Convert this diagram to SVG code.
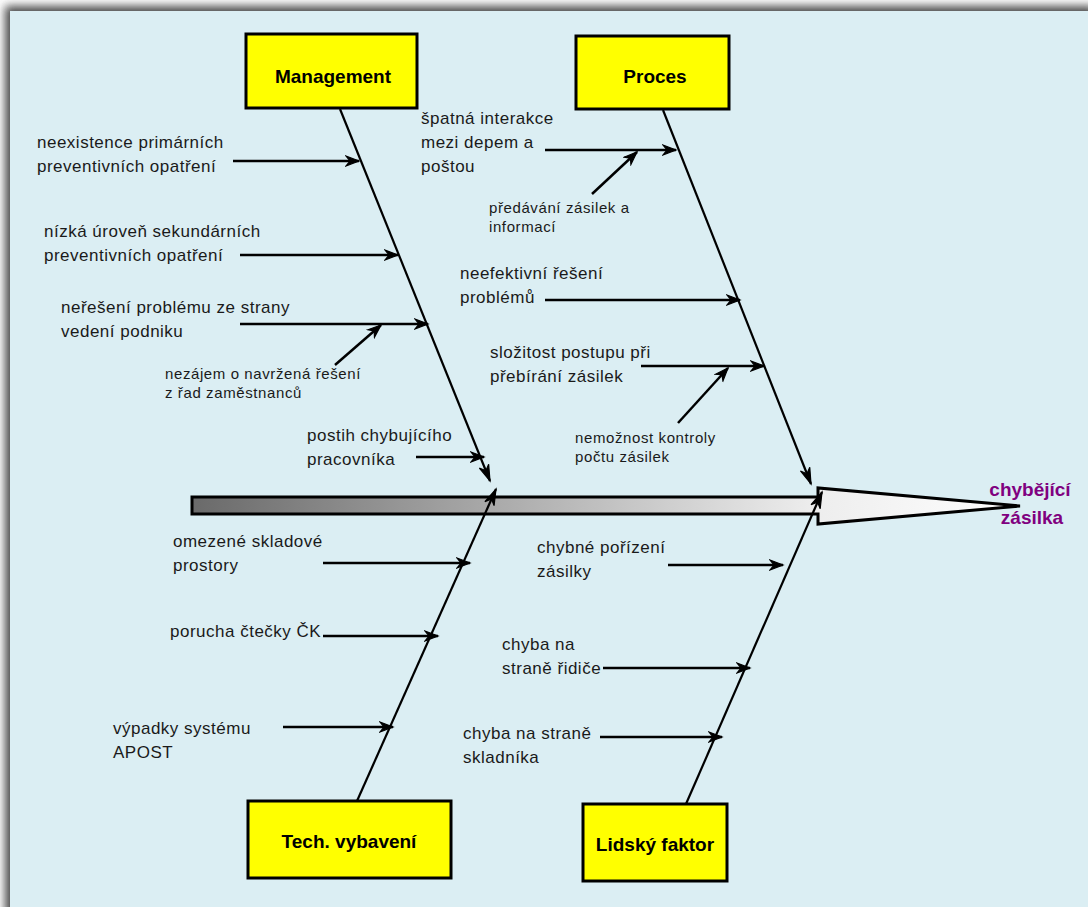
<svg xmlns="http://www.w3.org/2000/svg" width="1088" height="907" viewBox="0 0 1088 907">
<defs>
<filter id="sh" x="-5%" y="-5%" width="110%" height="110%"><feGaussianBlur stdDeviation="5"/></filter>
<linearGradient id="sg" gradientUnits="userSpaceOnUse" x1="192" y1="0" x2="1020" y2="0">
<stop offset="0" stop-color="#6a6a6a"/><stop offset="0.75" stop-color="#ededed"/><stop offset="1" stop-color="#ffffff"/>
</linearGradient>
<marker id="ah" viewBox="-14 -7 16 14" markerWidth="16" markerHeight="14" refX="0" refY="0" orient="auto" markerUnits="userSpaceOnUse">
<path d="M-13,-5 L0,0 L-13,5 L-9,0 Z" fill="#000" stroke="#000" stroke-width="1.2" stroke-linejoin="miter"/>
</marker>
<marker id="ahb" viewBox="-18 -7 20 14" markerWidth="20" markerHeight="14" refX="0" refY="0" orient="auto" markerUnits="userSpaceOnUse">
<path d="M-16,-5 L0,0 L-16,5 L-11,0 Z" fill="#000" stroke="#000" stroke-width="1.2"/>
</marker>
</defs>
<style>
.box{fill:#ffff00;stroke:#000;stroke-width:3}
.bt{font-family:"Liberation Sans",Arial,sans-serif;font-weight:bold;font-size:19px;fill:#000;text-anchor:middle}
.t{font-family:"Liberation Sans",Arial,sans-serif;font-size:17px;letter-spacing:0.5px;fill:#1a1a1a}
.s{font-family:"Liberation Sans",Arial,sans-serif;font-size:15px;letter-spacing:0.6px;fill:#1a1a1a}
.bone{stroke:#000;stroke-width:2.2;fill:none;marker-end:url(#ahb)}
.br{stroke:#000;stroke-width:2.5;fill:none;marker-end:url(#ah)}
.eff{font-family:"Liberation Sans",Arial,sans-serif;font-weight:bold;font-size:19px;fill:#800080;text-anchor:middle}
</style>
<rect x="0" y="0" width="1088" height="907" fill="#ffffff"/>
<rect x="5" y="6" width="1090" height="910" fill="#4a4a4a" filter="url(#sh)"/>
<rect x="10" y="11" width="1078" height="896" fill="#dbeef3"/>

<g id="spine">
<path d="M192,497 L818,497 L818,488 L1020,506 L818,524 L818,514 L192,514 Z" fill="url(#sg)" stroke="#000" stroke-width="3" stroke-linejoin="miter"/>
</g>
<g id="effect">
<text class="eff" x="1030" y="496">chybějící</text>
<text class="eff" x="1032" y="524">zásilka</text>
</g>

<g id="connectors">
<line class="bone" x1="340" y1="109" x2="490" y2="481"/>
<line class="bone" x1="663" y1="110" x2="811" y2="484"/>
<line class="bone" x1="357" y1="801" x2="496" y2="489"/>
<line class="bone" x1="686" y1="804" x2="822" y2="492"/>

<line class="br" x1="233" y1="161" x2="359" y2="161"/>
<line class="br" x1="240" y1="255" x2="398" y2="255"/>
<line class="br" x1="240" y1="324" x2="428" y2="324"/>
<line class="br" x1="335" y1="365" x2="381" y2="325"/>
<line class="br" x1="416" y1="457" x2="484" y2="457"/>

<line class="br" x1="545" y1="150" x2="676" y2="150"/>
<line class="br" x1="592" y1="194" x2="637" y2="152"/>
<line class="br" x1="545" y1="300" x2="740" y2="300"/>
<line class="br" x1="641" y1="366" x2="764" y2="366"/>
<line class="br" x1="678" y1="423" x2="728" y2="368"/>

<line class="br" x1="323" y1="563" x2="470" y2="563"/>
<line class="br" x1="323" y1="636" x2="438" y2="636"/>
<line class="br" x1="283" y1="727" x2="393" y2="727"/>

<line class="br" x1="668" y1="565" x2="783" y2="565"/>
<line class="br" x1="603" y1="668" x2="750" y2="668"/>
<line class="br" x1="600" y1="737" x2="722" y2="737"/>
</g>

<g id="management">
<rect class="box" x="246" y="34" width="171" height="74"/>
<text class="bt" x="333" y="83">Management</text>
</g>
<g id="proces">
<rect class="box" x="576" y="36" width="153" height="73"/>
<text class="bt" x="655" y="83">Proces</text>
</g>
<g id="tech">
<rect class="box" x="248" y="801" width="203" height="77"/>
<text class="bt" x="349" y="848">Tech. vybavení</text>
</g>
<g id="lidsky">
<rect class="box" x="583" y="804" width="144" height="77"/>
<text class="bt" x="655" y="851">Lidský faktor</text>
</g>

<g id="labels">
<text class="t" x="37" y="148">neexistence primárních</text>
<text class="t" x="37" y="172">preventivních opatření</text>
<text class="t" x="44" y="237">nízká úroveň sekundárních</text>
<text class="t" x="44" y="261">preventivních opatření</text>
<text class="t" x="61" y="313">neřešení problému ze strany</text>
<text class="t" x="61" y="337">vedení podniku</text>
<text class="s" x="165" y="379">nezájem o navržená řešení</text>
<text class="s" x="165" y="398">z řad zaměstnanců</text>
<text class="t" x="307" y="441">postih chybujícího</text>
<text class="t" x="307" y="465">pracovníka</text>

<text class="t" x="421" y="124">špatná interakce</text>
<text class="t" x="421" y="148">mezi depem a</text>
<text class="t" x="421" y="172">poštou</text>
<text class="s" x="489" y="213">předávání zásilek a</text>
<text class="s" x="489" y="232">informací</text>
<text class="t" x="460" y="279">neefektivní řešení</text>
<text class="t" x="460" y="303">problémů</text>
<text class="t" x="490" y="358">složitost postupu při</text>
<text class="t" x="490" y="382">přebírání zásilek</text>
<text class="s" x="575" y="443">nemožnost kontroly</text>
<text class="s" x="575" y="462">počtu zásilek</text>

<text class="t" x="173" y="547">omezené skladové</text>
<text class="t" x="173" y="571">prostory</text>
<text class="t" x="170" y="637">porucha čtečky ČK</text>
<text class="t" x="113" y="734">výpadky systému</text>
<text class="t" x="113" y="758">APOST</text>

<text class="t" x="537" y="553">chybné pořízení</text>
<text class="t" x="537" y="577">zásilky</text>
<text class="t" x="502" y="650">chyba na</text>
<text class="t" x="502" y="674">straně řidiče</text>
<text class="t" x="463" y="739">chyba na straně</text>
<text class="t" x="463" y="763">skladníka</text>
</g>
</svg>
